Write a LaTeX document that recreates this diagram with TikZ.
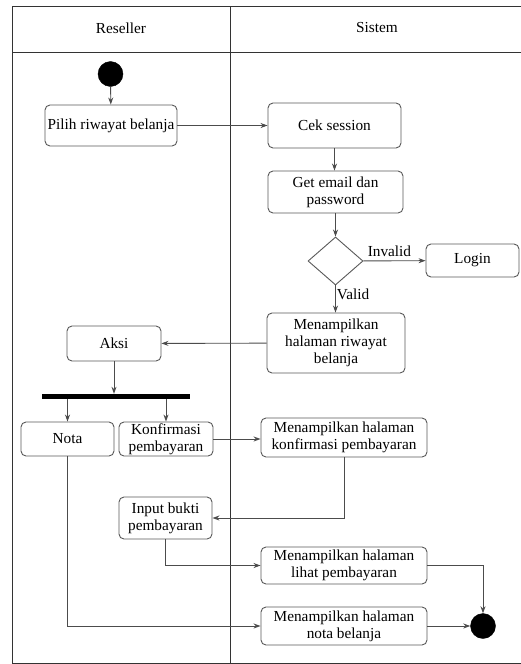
\documentclass[tikz,border=0pt]{standalone}
\usepackage{fontspec}
\setmainfont{Liberation Serif}
\newfontfamily\diagfont{Liberation Serif}
\usetikzlibrary{arrows.meta,shapes.geometric}
\begin{document}
\begin{tikzpicture}[x=1pt,y=-1pt,
  lane/.style={draw=black!80,line width=1pt},
  act/.style={draw=black!65,line width=0.9pt,rounded corners=5pt,fill=white,
    align=center,inner sep=1pt,font=\diagfont\fontsize{15.3}{16.8}\selectfont},
  flow/.style={draw=black!70,line width=0.9pt,-{Stealth[length=7pt,width=5pt]}},
  lbl/.style={font=\diagfont\fontsize{15.3}{16.8}\selectfont,inner sep=0pt},
  dot/.style={circle,fill=black,draw=black,inner sep=0pt}]
\useasboundingbox (0,0) rectangle (521,664);
\fill[white] (0,0) rectangle (521,664);

% swimlane frame
\draw[lane] (521,6) -- (12.7,6) -- (12.7,663) -- (521,663);
\draw[lane] (12.7,52) -- (521,52);
\draw[lane] (230,6) -- (230,663);
\node[lbl] (hres) at (121,28) {Reseller};
\node[lbl] (hsis) at (377,28) {Sistem};

% activities
\node[dot,minimum size=25pt] (start) at (110.5,74) {};
\node[act,minimum width=132,minimum height=41] (pilih) at (111,125.5) {Pilih riwayat belanja};
\node[act,minimum width=133,minimum height=45] (cek) at (334.5,125.5) {Cek session};
\node[act,minimum width=135,minimum height=42] (get) at (335.5,192) {Get email dan\\password};
\node[diamond,draw=black!65,line width=0.9pt,minimum width=55,minimum height=48,inner sep=0pt,aspect=1.15,fill=white] (dec) at (335.5,261) {};
\node[act,minimum width=93,minimum height=33] (login) at (472.5,260.5) {Login};
\node[act,minimum width=138,minimum height=60] (riw) at (336,343) {Menampilkan\\halaman riwayat\\belanja};
\node[act,minimum width=94,minimum height=35] (aksi) at (114,343.5) {Aksi};
\node[fill=black,minimum width=148,minimum height=5,inner sep=0pt] (bar) at (116,396.5) {};
\node[act,minimum width=93,minimum height=34] (nota) at (67.5,439) {Nota};
\node[act,minimum width=94,minimum height=34] (konf) at (166,439) {Konfirmasi\\pembayaran};
\node[act,minimum width=166,minimum height=39] (mhkp) at (344,437.5) {Menampilkan halaman\\konfirmasi pembayaran};
\node[act,minimum width=93,minimum height=42] (input) at (165.5,518) {Input bukti\\pembayaran};
\node[act,minimum width=166,minimum height=37] (mhlp) at (344,565.5) {Menampilkan halaman\\lihat pembayaran};
\node[act,minimum width=166,minimum height=38] (mhnb) at (344,626) {Menampilkan halaman\\nota belanja};
\node[dot,minimum size=25pt] (end) at (483,626) {};

% control flow
\draw[flow] (start) -- (pilih);
\draw[flow] (pilih) -- (cek);
\draw[flow] (cek) -- (get.north -| cek);
\draw[flow] (get.south -| dec) -- (dec);
\draw[flow] (dec) -- node[lbl,above=4pt,pos=0.42] {Invalid} (login);
\draw[flow] (dec.south) -- node[lbl,right,pos=0.32,xshift=1pt] {Valid} (riw.north -| dec);
\draw[flow] (riw) -- (aksi);
\draw[flow] (aksi.south) -- (bar.north -| aksi);
\draw[flow] (bar.south -| nota) -- (nota);
\draw[flow] (bar.south -| konf) -- (konf);
\draw[flow] (konf) -- (mhkp.west |- konf);
\draw[flow] (mhkp.south) |- (input);
\draw[flow] (input.south) |- (mhlp);
\draw[flow] (mhlp.east) -| (end.north);
\draw[flow] (nota.south) |- (mhnb);
\draw[flow] (mhnb) -- (end);
\end{tikzpicture}
\end{document}
